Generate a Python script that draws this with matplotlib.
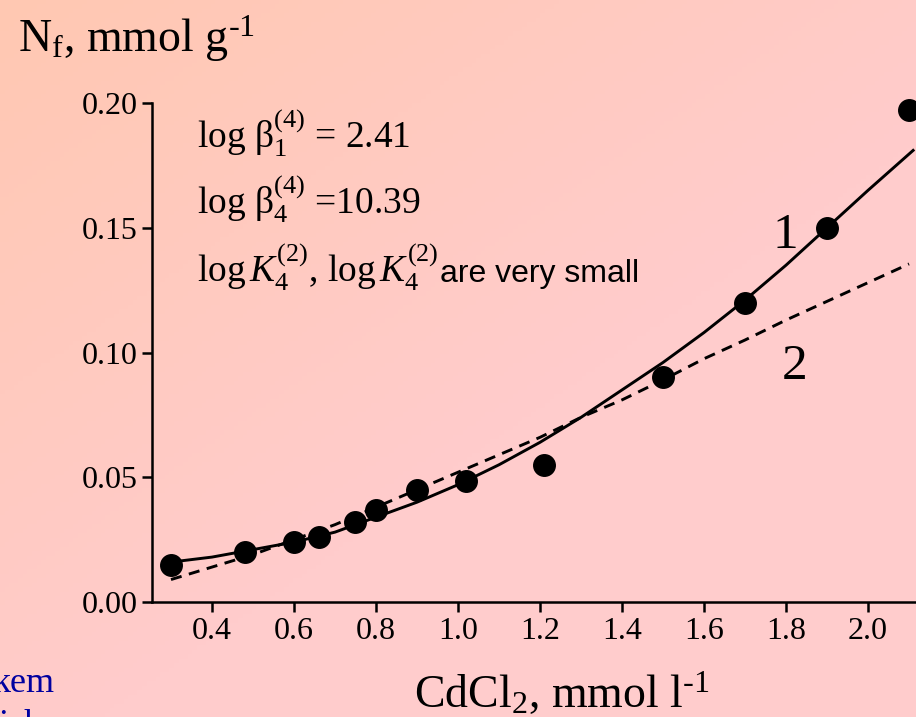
import numpy as np
import matplotlib
matplotlib.use("Agg")
import matplotlib.pyplot as plt

# measured points
conc = [0.30, 0.48, 0.60, 0.66, 0.75, 0.80, 0.90, 1.02, 1.21, 1.50, 1.70, 1.90, 2.10]
nf = [0.015, 0.020, 0.024, 0.026, 0.032, 0.037, 0.045, 0.0485, 0.055, 0.090, 0.120, 0.150, 0.197]

# curve 1 (solid)
c1_x = [0.30, 0.40, 0.50, 0.60, 0.70, 0.80, 0.90, 1.00, 1.10, 1.20, 1.30, 1.40, 1.50,
        1.60, 1.70, 1.80, 1.90, 2.00, 2.11]
c1_y = [0.016, 0.018, 0.021, 0.024, 0.028, 0.034, 0.040, 0.047, 0.055, 0.064, 0.074,
        0.085, 0.096, 0.108, 0.121, 0.135, 0.150, 0.165, 0.181]

# curve 2 (dashed)
c2_x = [0.30, 0.40, 0.50, 0.60, 0.70, 0.80, 0.90, 1.00, 1.10, 1.20, 1.30, 1.40, 1.50,
        1.60, 1.70, 1.80, 1.90, 2.00, 2.10]
c2_y = [0.009, 0.014, 0.019, 0.025, 0.031, 0.038, 0.045, 0.052, 0.059, 0.066, 0.074,
        0.081, 0.089, 0.0975, 0.105, 0.113, 0.1205, 0.128, 0.1355]

xticks = [0.4, 0.6, 0.8, 1.0, 1.2, 1.4, 1.6, 1.8, 2.0]
yticks = [0.00, 0.05, 0.10, 0.15, 0.20]

plt.rcParams['font.family'] = ['Liberation Serif', 'DejaVu Serif']
plt.rcParams['mathtext.fontset'] = 'custom'
plt.rcParams['mathtext.rm'] = 'Liberation Serif'
plt.rcParams['mathtext.it'] = 'Liberation Serif:italic'

W, H = 916, 717
fig = plt.figure(figsize=(W / 100, H / 100), dpi=100)

# background gradient (peach top-left -> pink)
bg = fig.add_axes([0, 0, 1, 1], zorder=-1)
gx, gy = np.meshgrid(np.linspace(0, 1, 200), np.linspace(0, 1, 160))
t = np.clip((gx * 0.9 + gy * 1.0) / 1.1, 0, 1)
c0 = np.array([255, 200, 178]) / 255
c1 = np.array([255, 204, 204]) / 255
img = c0[None, None, :] * (1 - t[..., None]) + c1[None, None, :] * t[..., None]
bg.imshow(img, aspect='auto', extent=[0, 1, 0, 1], origin='upper')
bg.axis('off')

ax = fig.add_axes([152 / W, 1 - 602 / H, (W - 152) / W, (602 - 103) / H])
ax.patch.set_alpha(0)

ax.plot(c1_x, c1_y, color='black', lw=2.1, clip_on=False)
ax.plot(c2_x, c2_y, color='black', lw=2.1, dashes=(3.8, 2.6), clip_on=False)
ax.plot(conc, nf, 'o', color='black', ms=15.5, clip_on=False, zorder=5)

ax.set_xlim(0.2537, 2.117)
ax.set_ylim(0, 0.2)
ax.set_xticks(xticks)
ax.set_xticklabels(['%.1f' % v for v in xticks])
ax.set_yticks(yticks)
ax.set_yticklabels(['%.2f' % v for v in yticks])
ax.spines['top'].set_visible(False)
ax.spines['right'].set_visible(False)
ax.spines['left'].set_linewidth(1.8)
ax.spines['bottom'].set_linewidth(1.8)
ax.tick_params(direction='out', length=7, width=1.8, labelsize=23, pad=4)
ax.tick_params(axis='y', pad=3)

# curve labels
ax.text(1.798, 0.1467, '1', fontsize=37, ha='center', va='center')
ax.text(1.82, 0.0942, '2', fontsize=37, ha='center', va='center')

# annotations
ax.text(0.3634, 0.182, r'log β$_1^{(4)}$ = 2.41', fontsize=27, va='baseline')
ax.text(0.3634, 0.1555, r'log β$_4^{(4)}$ =10.39', fontsize=27, va='baseline')
ax.text(0.3634, 0.1283, r'log$\,K_4^{(2)}$, log$\,K_4^{(2)}$', fontsize=27, va='baseline')
ax.text(0.3634 + (440 - 197) / 410, 0.1283, 'are very small', fontsize=23,
        family='Liberation Sans', va='baseline')

# axis titles
fig.text(18 / W, 1 - 52 / H, r'N$_\mathrm{f}$, mmol g$^{\text{-1}}$', fontsize=33, va='baseline')
fig.text(562 / W, 1 - 708 / H, r'CdCl$_2$, mmol l$^{\text{-1}}$', fontsize=33,
         ha='center', va='baseline')

# cut-off blue text at bottom left
fig.text(-8 / W, 1 - 692 / H, 'kem', fontsize=26, color='#0000a0', va='baseline')
fig.text(-2 / W, 1 - 734 / H, 'ich', fontsize=26, color='#0000a0', va='baseline')

fig.savefig('out.png', dpi=100)
